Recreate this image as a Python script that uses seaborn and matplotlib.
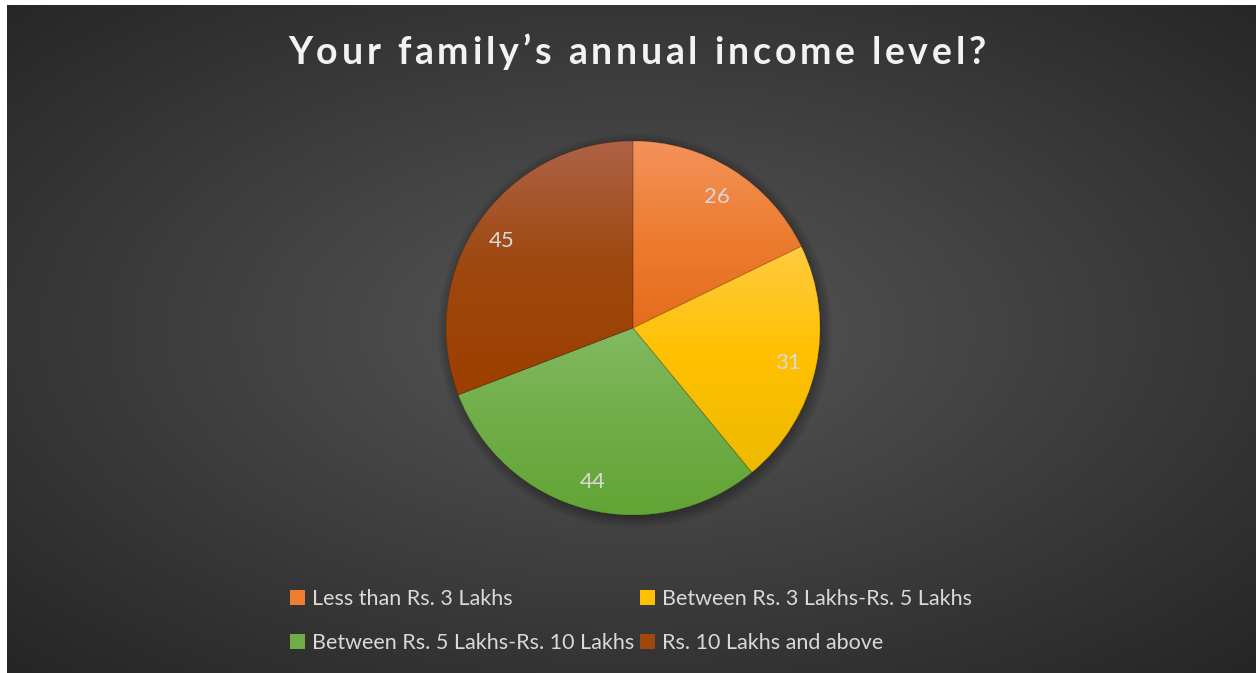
import numpy as np
import matplotlib
matplotlib.use("Agg")
import matplotlib.pyplot as plt
import seaborn as sns
from matplotlib.patches import Patch, Wedge, Circle
from matplotlib.colors import to_rgb

# ---- data -------------------------------------------------------------
categories = [
    "Less than Rs. 3 Lakhs",
    "Between Rs. 3 Lakhs-Rs. 5 Lakhs",
    "Between Rs. 5 Lakhs-Rs. 10 Lakhs",
    "Rs. 10 Lakhs and above",
]
counts = [26, 31, 44, 45]
title = "Your family\u2019s annual income level?"

# ---- styling ----------------------------------------------------------
base_colors = ["#ED7D31", "#FFC000", "#70AD47", "#9E480E"]
top_colors = ["#F4925B", "#FFCB40", "#83BA62", "#AF6247"]
bottom_colors = ["#E56C1C", "#EDBA00", "#62A535", "#9C3F00"]
text_color = "#D9D9D9"

sns.set_theme(style="dark")
plt.rcParams["font.family"] = ["Lato", "DejaVu Sans"]

W, H = 1258, 673
fig = plt.figure(figsize=(W / 100, H / 100), dpi=100, facecolor="white")
renderer = fig.canvas.get_renderer()

# ---- dark radial-gradient panel --------------------------------------
bx0, bx1, by0, by1 = 7, 1256, 0, 668
bg = fig.add_axes([bx0 / W, by0 / H, (bx1 - bx0) / W, (by1 - by0) / H])
bg.set_axis_off()
ny, nx = 400, 760
yy, xx = np.mgrid[0:1:ny * 1j, 0:1:nx * 1j]
cx = (633 - bx0) / (bx1 - bx0)
cy = (H - 330 - by0) / (by1 - by0)
d = np.sqrt(((xx - cx) / 0.5) ** 2 + ((yy - cy) / 0.5) ** 2) / np.sqrt(2)
d = np.clip(d, 0, 1)
c_in = np.array(to_rgb("#575757"))
c_out = np.array(to_rgb("#262626"))
img = c_in[None, None, :] * (1 - d[..., None]) + c_out[None, None, :] * d[..., None]
bg.imshow(img, extent=[0, 1, 0, 1], origin="lower", aspect="auto")
bg.set_xlim(0, 1)
bg.set_ylim(0, 1)

# ---- pie ----------------------------------------------------------------
R = 187
pcx, pcy = 633, H - 328
pad = 1.1
ax = fig.add_axes([(pcx - pad * R) / W, (pcy - pad * R) / H, 2 * pad * R / W, 2 * pad * R / H])
ax.set_axis_off()

# soft outer shadow
for i in range(10):
    ax.add_patch(Circle((0.01, -0.015), 1.0 + 0.006 * i, facecolor="black",
                        edgecolor="none", alpha=0.028, zorder=0))

wedges, _ = ax.pie(counts, colors=base_colors, startangle=90, counterclock=False,
                   radius=1.0, wedgeprops=dict(linewidth=0, zorder=1))

for w, top, base, bot in zip(wedges, top_colors, base_colors, bottom_colors):
    bb = w.get_path().get_extents()
    t = np.linspace(0, 1, 256)[:, None]
    c_top, c_mid, c_bot = (np.array(to_rgb(c)) for c in (top, base, bot))
    lower = c_bot * (1 - t / 0.5) + c_mid * (t / 0.5)
    upper = c_mid * (1 - (t - 0.5) / 0.5) + c_top * ((t - 0.5) / 0.5)
    col = np.where(t < 0.5, lower, upper)
    grad = np.repeat(col[:, None, :], 4, axis=1)
    im = ax.imshow(grad, extent=[bb.x0, bb.x1, bb.y0, bb.y1], origin="lower",
                   aspect="auto", zorder=2, interpolation="bilinear")
    im.set_clip_path(w)
    ax.add_patch(Wedge(w.center, w.r, w.theta1, w.theta2, fill=False,
                       edgecolor=(0, 0, 0, 0.18), linewidth=0.6, zorder=3))

# value labels inside the slices
for w, v in zip(wedges, counts):
    ang = np.deg2rad((w.theta1 + w.theta2) / 2)
    ax.text(0.85 * np.cos(ang), 0.84 * np.sin(ang) - 0.01, f"{v}", ha="center", va="center",
            fontsize=16, color=text_color, zorder=4)

ax.set_xlim(-pad, pad)
ax.set_ylim(-pad, pad)
ax.set_aspect("equal")

# ---- letter-spaced title ----------------------------------------------
title_kw = dict(fontsize=27, fontweight="bold", color="#F2F2F2", va="center")
tracking = 3.8  # extra pixels between characters


def text_width(s):
    if not s:
        return 0.0
    t = fig.text(0, 0, s, **title_kw)
    wpx = t.get_window_extent(renderer).width
    t.remove()
    return wpx


full_w = text_width(title) + tracking * (len(title) - 1)
x_start = 637 - full_w / 2
ty = 1 - 53 / H
for i, ch in enumerate(title):
    if ch == " ":
        continue
    x = x_start + text_width(title[:i]) + tracking * i
    fig.text(x / W, ty, ch, ha="left", **title_kw)

# ---- legend -------------------------------------------------------------
handles = [Patch(facecolor=c, edgecolor="none") for c in base_colors]
order = [0, 2, 1, 3]
fig.legend([handles[i] for i in order], [categories[i] for i in order],
           ncol=2, loc="center", bbox_to_anchor=(631 / W, (H - 621) / H),
           frameon=False, fontsize=15.5, labelcolor=text_color,
           handlelength=0.7, handleheight=0.7, handletextpad=0.3,
           columnspacing=0.3, labelspacing=1.12)

fig.savefig("out.png", dpi=100, facecolor=fig.get_facecolor())
